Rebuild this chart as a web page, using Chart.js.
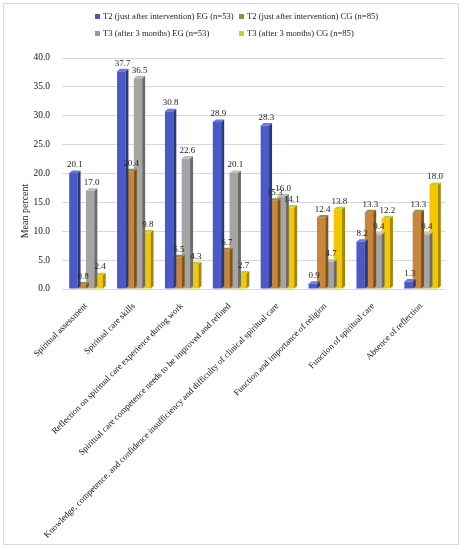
<!DOCTYPE html>
<html>
<head>
<meta charset="utf-8">
<script src="https://cdn.jsdelivr.net/npm/chart.js@4.4.1/dist/chart.umd.min.js"></script>
<style>
  html, body { margin: 0; padding: 0; background: #fff; }
  #wrap { position: relative; width: 467px; height: 550px; overflow: hidden; }
  #frame { position: absolute; left: 3px; top: 3px; width: 456px; height: 542px; border: 1px solid #d9d9d9; box-sizing: border-box; pointer-events: none; }
  canvas { position: absolute; left: 0; top: 0; }
  .leg { position: absolute; font-family: "Liberation Serif", serif; font-size: 8.6px; color: #222; white-space: nowrap; line-height: 10px; }
  .leg i { display: inline-block; width: 5px; height: 5px; margin-right: 3px; vertical-align: 0px; }
  #ytitle { position: absolute; font-family: "Liberation Serif", serif; font-size: 10px; color: #222; white-space: nowrap; transform: translate(-50%, -50%) rotate(-90deg); left: 24px; top: 211px; }
</style>
</head>
<body>
<div id="wrap">
  <canvas id="c" width="467" height="550"></canvas>
  <div id="frame"></div>
  <div id="legend"></div>
  <div id="ytitle">Mean percent</div>
</div>
<script>
const categories = [
  "Spiritual assessment",
  "Spiritual care skills",
  "Reflection on spiritual care experience during work",
  "Spiritual care competence needs to be improved and refined",
  "Knowledge, competence, and confidence insufficiency and difficulty of clinical spiritual care",
  "Function and importance of religion",
  "Function of spiritual care",
  "Absence of reflection"
];
const seriesNames = [
  "T2 (just after intervention) EG (n=53)",
  "T2 (just after intervention) CG (n=85)",
  "T3 (after 3 months) EG (n=53)",
  "T3 (after 3 months) CG (n=85)"
];
const t2EG = [20.1, 37.7, 30.8, 28.9, 28.3, 0.9, 8.2, 1.3];
const t2CG = [0.8, 20.4, 5.5, 6.7, 15.3, 12.4, 13.3, 13.3];
const t3EG = [17.0, 36.5, 22.6, 20.1, 16.0, 4.7, 9.4, 9.4];
const t3CG = [2.4, 9.8, 4.3, 2.7, 14.1, 13.8, 12.2, 18.0];
const yMin = 0, yMax = 40, yStep = 5;

const faceColors = ["#4a5ac6", "#c7873a", "#a5a5a5", "#f4c800"];
const sideColors = ["#2b377f", "#7f5418", "#6b6b6b", "#a98700"];
const topColors  = ["#6a78d8", "#9c8b38", "#bdbdbd", "#c9cf1e"];
const legendColors = ["#4b5bb5", "#9b8b45", "#9a9a9a", "#c9d22a"];

// HTML legend (grid-aligned like reference)
const legendPos = [[95, 11], [239, 11], [95, 28], [239, 28]];
const legEl = document.getElementById('legend');
seriesNames.forEach((n, i) => {
  const d = document.createElement('div');
  d.className = 'leg';
  d.style.left = legendPos[i][0] + 'px';
  d.style.top = legendPos[i][1] + 'px';
  d.innerHTML = '<i style="background:' + legendColors[i] + '"></i>' + n;
  legEl.appendChild(d);
});

const seriesData = [t2EG, t2CG, t3EG, t3CG];
const datasets = seriesData.map((arr, i) => ({
  label: seriesNames[i],
  data: arr,
  backgroundColor: faceColors[i],
  borderWidth: 0,
  categoryPercentage: 0.7,
  barPercentage: 1.0
}));

const DEPTH = 3, DEPTH_Y = 2.5;
const bar3d = {
  id: 'bar3d',
  afterDatasetDraw(chart, args) {
    const ctx = chart.ctx;
    const i = args.index;
    args.meta.data.forEach(el => {
      const p = el.getProps(['x', 'y', 'base', 'width'], true);
      const L = p.x - p.width / 2, R = p.x + p.width / 2;
      ctx.save();
      ctx.fillStyle = sideColors[i];
      ctx.beginPath();
      ctx.moveTo(R, p.y);
      ctx.lineTo(R + DEPTH, p.y - DEPTH_Y);
      ctx.lineTo(R + DEPTH, p.base - DEPTH_Y);
      ctx.lineTo(R, p.base);
      ctx.closePath();
      ctx.fill();
      ctx.fillStyle = topColors[i];
      ctx.beginPath();
      ctx.moveTo(L, p.y);
      ctx.lineTo(L + DEPTH, p.y - DEPTH_Y);
      ctx.lineTo(R + DEPTH, p.y - DEPTH_Y);
      ctx.lineTo(R, p.y);
      ctx.closePath();
      ctx.fill();
      ctx.restore();
    });
  },
  afterDatasetsDraw(chart) {
    const ctx = chart.ctx;
    ctx.save();
    ctx.font = '9px "Liberation Serif", serif';
    ctx.fillStyle = '#222';
    ctx.textAlign = 'center';
    ctx.textBaseline = 'bottom';
    chart.data.datasets.forEach((ds, i) => {
      const meta = chart.getDatasetMeta(i);
      meta.data.forEach((el, j) => {
        const p = el.getProps(['x', 'y'], true);
        ctx.fillText(ds.data[j].toFixed(1), p.x + 1.5, p.y - DEPTH_Y - 1);
      });
    });
    ctx.restore();
  }
};

new Chart(document.getElementById('c'), {
  type: 'bar',
  data: { labels: categories, datasets },
  options: {
    responsive: false,
    animation: false,
    layout: { padding: { top: 58, right: 22, bottom: 0, left: 0 } },
    plugins: { legend: { display: false }, tooltip: { enabled: false } },
    scales: {
      x: {
        grid: { display: false },
        border: { display: false },
        ticks: {
          autoSkip: false,
          minRotation: 45,
          maxRotation: 45,
          padding: 4,
          color: '#111',
          font: { family: '"Liberation Serif", serif', size: 8.8 }
        },
        afterFit(s) { s.height = 261; }
      },
      y: {
        min: yMin, max: yMax,
        grid: { color: '#d9d9d9', drawTicks: false },
        border: { display: false },
        ticks: {
          stepSize: yStep,
          padding: 12,
          color: '#111',
          font: { family: '"Liberation Serif", serif', size: 9.4 },
          callback: v => Number(v).toFixed(1)
        },
        afterFit(s) { s.width = 62; }
      }
    }
  },
  plugins: [bar3d]
});
</script>
</body>
</html>
